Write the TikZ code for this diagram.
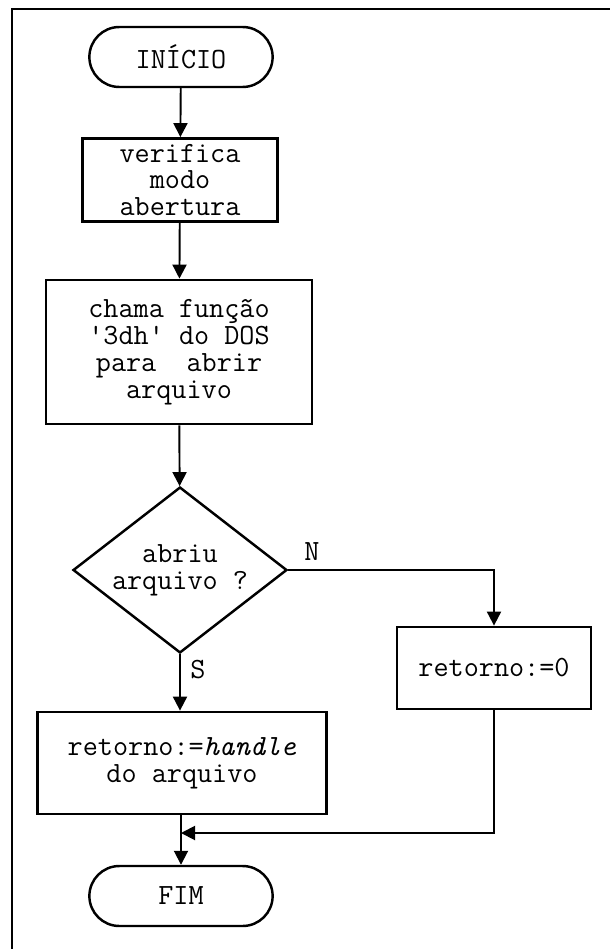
\documentclass[tikz,border=0pt]{standalone}
\usepackage{fontspec}
\usetikzlibrary{shapes.geometric,shapes.misc,arrows.meta}
\begin{document}
\begin{tikzpicture}[x=0.02cm,y=-0.02cm,
  font=\ttfamily\fontsize{16.7pt}{15.3pt}\selectfont,
  proc/.style={rectangle, draw, line width=1.6pt, align=center, inner sep=0pt},
  term/.style={rounded rectangle, draw, line width=1.4pt, minimum width=3.9cm, minimum height=1.2cm},
  seta/.style={line width=1.1pt, -{Triangle[width=0.28cm,length=0.28cm]}}]
\useasboundingbox (0,0) rectangle (610,949);
\draw[line width=1.2pt] (12,949) -- (12,9) -- (610,9);
\node[term] (nd0) at (181,57){INÍCIO};
\node[proc, minimum width=3.9cm, minimum height=1.66cm] (nd1) at (180,180){verifica\\modo\\abertura};
\draw[seta](nd0) -- (nd1);
\node[proc, minimum width=5.32cm, minimum height=2.88cm] (nd2) at (179,352){chama função\\'3dh' do DOS\\para\ \ abrir\\arquivo};
\draw[seta](nd1) -- (nd2);
\node[diamond, draw, line width=1.4pt, aspect=1.29, minimum width=4.28cm, minimum height=3.32cm, inner sep=0pt, align=center] (nd3) at (180,570){abriu\\arquivo ?};
\draw[seta](nd2) -- (nd3);
\node[proc, minimum width=3.88cm, minimum height=1.64cm] (nd4) at (494,668){retorno:=0};
\draw[seta](nd3.east) -| (nd4.north);
\node (rotN) at (312,552){N};
\node[proc, minimum width=5.78cm, minimum height=2.04cm] (nd5) at (182,763){retorno:=\textit{handle}\\do arquivo};
\draw[seta](nd3.south) -- (nd3.south |- nd5.north);
\node (rotS) at (198,670){S};
\node[term] (nd6) at (181,896){FIM};
\draw[seta](nd5.south -| nd6.north) -- (nd6.north);
\coordinate (jn) at (181,833);
\draw[seta](nd4.south) |- (jn);
\end{tikzpicture}
\end{document}
